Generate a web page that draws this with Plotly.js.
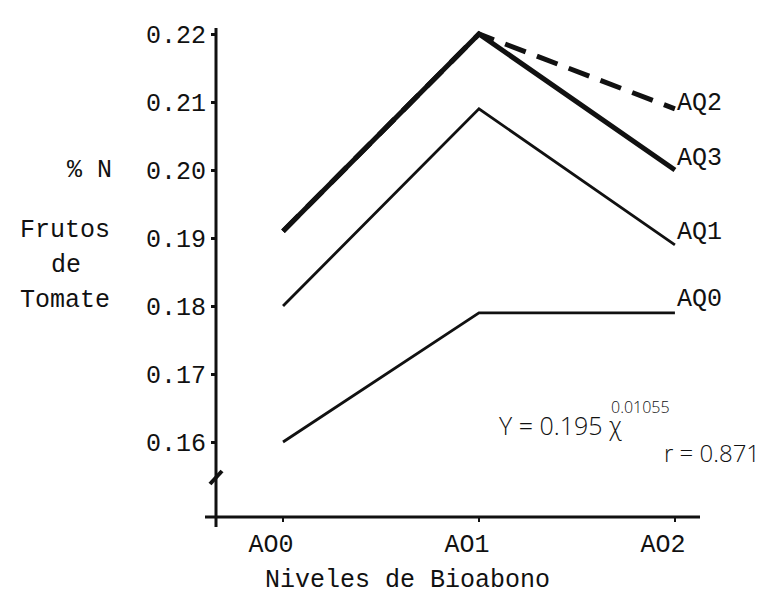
<!DOCTYPE html>
<html>
<head>
<meta charset="utf-8">
<script src="https://cdn.plot.ly/plotly-3.0.1.min.js"></script>
<style>html,body{margin:0;padding:0;background:#fff;}#chart{width:784px;height:596px;}</style>
</head>
<body>
<div id="chart"></div>
<script>
// ---- data ----
const categories = ['AO0', 'AO1', 'AO2'];
const seriesNames = ['AQ0', 'AQ1', 'AQ3', 'AQ2'];
const AQ0 = [0.160, 0.179, 0.179];
const AQ1 = [0.180, 0.209, 0.189];
const AQ3 = [0.191, 0.220, 0.200];
const AQ2 = [0.191, 0.220, 0.209];
const yTicks = [0.16, 0.17, 0.18, 0.19, 0.20, 0.21, 0.22];
const yLabelLines = ['% N', 'Frutos', 'de', 'Tomate'];
const xTitle = 'Niveles de Bioabono';
const equationMain = 'Y = 0.195 χ';
const equationExp = '0.01055';
const rText = 'r = 0.871';

// ---- layout helpers ----
const W = 784, H = 596;
const M = {l: 216, r: 84, t: 30, b: 79};
const PW = W - M.l - M.r, PH = H - M.t - M.b;
const px = x => (x - M.l) / PW;
const py = y => (H - M.b - y) / PH;

const mono = "'Liberation Mono', 'DejaVu Sans Mono', monospace";
const hand = "'Open Sans', sans-serif";
const black = '#111';
const FS = 25;

const data = [
  {x: categories, y: AQ0, name: 'AQ0', mode: 'lines', line: {color: black, width: 2.8}},
  {x: categories, y: AQ1, name: 'AQ1', mode: 'lines', line: {color: black, width: 2.8}},
  {x: categories, y: AQ3, name: 'AQ3', mode: 'lines', line: {color: black, width: 5}},
  {x: categories, y: AQ2, name: 'AQ2', mode: 'lines', line: {color: black, width: 5, dash: '22px,12px'}}
];

const seriesVals = {AQ0: AQ0, AQ1: AQ1, AQ2: AQ2, AQ3: AQ3};
const labelShift = {AQ0: 13, AQ1: 12, AQ2: 5, AQ3: 12};
const annotations = [];
seriesNames.forEach(n => {
  annotations.push({
    x: categories[2], y: seriesVals[n][2], xref: 'x', yref: 'y',
    text: n, showarrow: false, xanchor: 'left', yanchor: 'middle',
    xshift: 0, yshift: labelShift[n],
    font: {family: mono, size: FS, color: black}
  });
});
// left y label stack
const leftPos = [
  {x: 114, y: 170, a: 'right'},
  {x: 112, y: 230, a: 'right'},
  {x: 66, y: 265, a: 'center'},
  {x: 112, y: 300, a: 'right'}
];
yLabelLines.forEach((t, i) => {
  annotations.push({
    x: px(leftPos[i].x), y: py(leftPos[i].y), xref: 'paper', yref: 'paper',
    text: t, showarrow: false, xanchor: leftPos[i].a, yanchor: 'middle',
    font: {family: mono, size: FS, color: black}
  });
});
annotations.push({
  x: px(407), y: py(580), xref: 'paper', yref: 'paper', text: xTitle,
  showarrow: false, xanchor: 'center', yanchor: 'middle',
  font: {family: mono, size: FS, color: black}
});
annotations.push({
  x: px(497), y: py(425), xref: 'paper', yref: 'paper', text: equationMain,
  showarrow: false, xanchor: 'left', yanchor: 'middle',
  font: {family: hand, size: 25, color: black, weight: 300}
});
annotations.push({
  x: px(609), y: py(407), xref: 'paper', yref: 'paper', text: equationExp,
  showarrow: false, xanchor: 'left', yanchor: 'middle',
  font: {family: hand, size: 16, color: black, weight: 300}
});
annotations.push({
  x: px(662), y: py(452), xref: 'paper', yref: 'paper', text: rText,
  showarrow: false, xanchor: 'left', yanchor: 'middle',
  font: {family: hand, size: 24, color: black, weight: 300}
});

const shapes = [
  // y axis
  {type: 'line', xref: 'paper', yref: 'paper', x0: px(216), x1: px(216), y0: py(28), y1: py(527), line: {color: black, width: 3}},
  // x axis
  {type: 'line', xref: 'paper', yref: 'paper', x0: px(205), x1: px(700), y0: py(517), y1: py(517), line: {color: black, width: 3}},
  // axis break mark
  {type: 'line', xref: 'paper', yref: 'paper', x0: px(210), x1: px(222), y0: py(484), y1: py(471), line: {color: black, width: 4}}
];

const layout = {
  width: W, height: H,
  margin: M,
  paper_bgcolor: '#fff', plot_bgcolor: '#fff',
  showlegend: false,
  xaxis: {
    type: 'category', range: [-0.342, 2.128],
    showgrid: false, zeroline: false, showline: false,
    ticks: 'outside', ticklen: 4, tickwidth: 2, tickcolor: black,
    tickfont: {family: mono, size: FS, color: black},
    ticklabelshift: -12, ticklabelstandoff: 0
  },
  yaxis: {
    range: [0.14897, 0.22059],
    showgrid: false, zeroline: false, showline: false,
    tickvals: yTicks, ticktext: yTicks.map(v => v.toFixed(2)),
    ticks: 'outside', ticklen: 4, tickwidth: 3, tickcolor: black,
    tickfont: {family: mono, size: FS, color: black},
    ticklabelstandoff: 0
  },
  annotations: annotations,
  shapes: shapes
};

Plotly.newPlot('chart', data, layout, {staticPlot: true, displayModeBar: false});
</script>
</body>
</html>
